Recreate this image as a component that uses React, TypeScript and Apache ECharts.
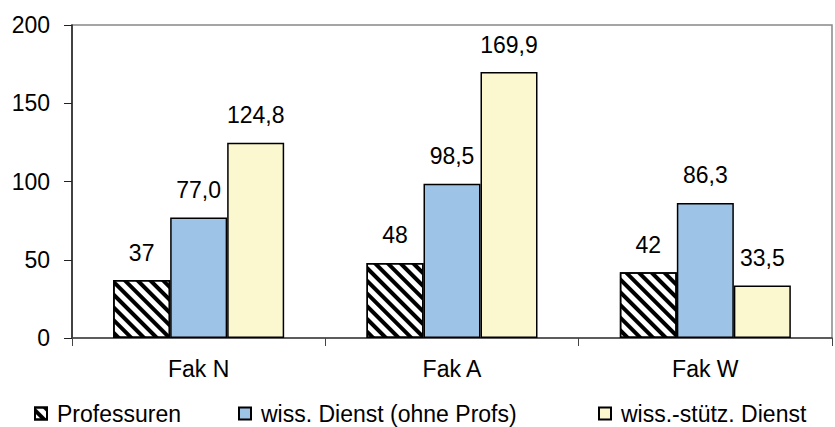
import React, { useEffect, useRef } from "react";
import * as echarts from "echarts";

const categories = ["Fak N", "Fak A", "Fak W"];
const seriesNames = ["Professuren", "wiss. Dienst (ohne Profs)", "wiss.-stütz. Dienst"];
const professuren = [37, 48, 42];
const wissDienst = [77.0, 98.5, 86.3];
const wissStuetz = [124.8, 169.9, 33.5];
const yTickMin = 0;
const yTickMax = 200;
const yTickStep = 50;

const FONT = "'Liberation Sans', Arial, sans-serif";
const FS = 23;

function fmt(seriesIndex: number, v: number) {
  if (seriesIndex === 0) return String(v);
  return v.toFixed(1).replace(".", ",");
}

export default function App() {
  const ref = useRef<HTMLDivElement>(null);
  useEffect(() => {
    if (!ref.current) return;
    const chart = echarts.init(ref.current, undefined, { renderer: "svg" });
    const labelStyle = (si: number) => ({
      show: true,
      position: "top" as const,
      distance: 16,
      fontSize: FS,
      color: "#000",
      fontFamily: FONT,
      formatter: (p: any) => fmt(si, p.value),
    });
    const legendBase = {
      top: 402,
      padding: 0,
      itemWidth: 12,
      itemHeight: 12,
      icon: "rect",
      textStyle: { fontSize: FS, color: "#000", fontFamily: FONT, padding: [0, 0, 0, 5] },
    };
    chart.setOption({
      animation: false,
      textStyle: { fontFamily: FONT },
      grid: {
        left: 72,
        right: 3,
        top: 25,
        bottom: 89,
        show: true,
        borderColor: "#888",
        borderWidth: 1.5,
      },
      legend: [
        { ...legendBase, left: 34, data: [seriesNames[0]] },
        { ...legendBase, left: 238, data: [seriesNames[1]] },
        { ...legendBase, left: 598, data: [seriesNames[2]] },
      ],
      xAxis: {
        type: "category",
        data: categories,
        axisLine: { show: true, lineStyle: { color: "#444", width: 1.5 } },
        axisTick: { show: true, length: 8, alignWithLabel: false, lineStyle: { color: "#444" } },
        axisLabel: { fontSize: FS, color: "#000", margin: 19, fontFamily: FONT },
      },
      yAxis: {
        type: "value",
        min: yTickMin,
        max: yTickMax,
        interval: yTickStep,
        splitLine: { show: false },
        axisLine: { show: true, lineStyle: { color: "#222", width: 1.5 } },
        axisTick: { show: true, length: 8, lineStyle: { color: "#222" } },
        axisLabel: { fontSize: FS, color: "#000", margin: 22, fontFamily: FONT },
      },
      series: [
        {
          name: seriesNames[0],
          type: "bar",
          data: professuren,
          barWidth: 57,
          barGap: "0%",
          itemStyle: {
            color: "#fff",
            borderColor: "#000",
            borderWidth: 1.5,
            decal: {
              symbol: "rect",
              symbolSize: 1,
              color: "#000",
              dashArrayX: [1, 0],
              dashArrayY: [4, 5],
              rotation: Math.PI / 4,
            },
          },
          label: labelStyle(0),
        },
        {
          name: seriesNames[1],
          type: "bar",
          data: wissDienst,
          barWidth: 57,
          barGap: "0%",
          itemStyle: { color: "#9dc3e6", borderColor: "#000", borderWidth: 1.5 },
          label: labelStyle(1),
        },
        {
          name: seriesNames[2],
          type: "bar",
          data: wissStuetz,
          barWidth: 57,
          barGap: "0%",
          itemStyle: { color: "#fbf7cf", borderColor: "#000", borderWidth: 1.5 },
          label: labelStyle(2),
        },
      ],
    });
    return () => chart.dispose();
  }, []);
  return (
    <div
      ref={ref}
      style={{ position: "absolute", left: 0, top: 0, width: 835, height: 427 }}
    />
  );
}
